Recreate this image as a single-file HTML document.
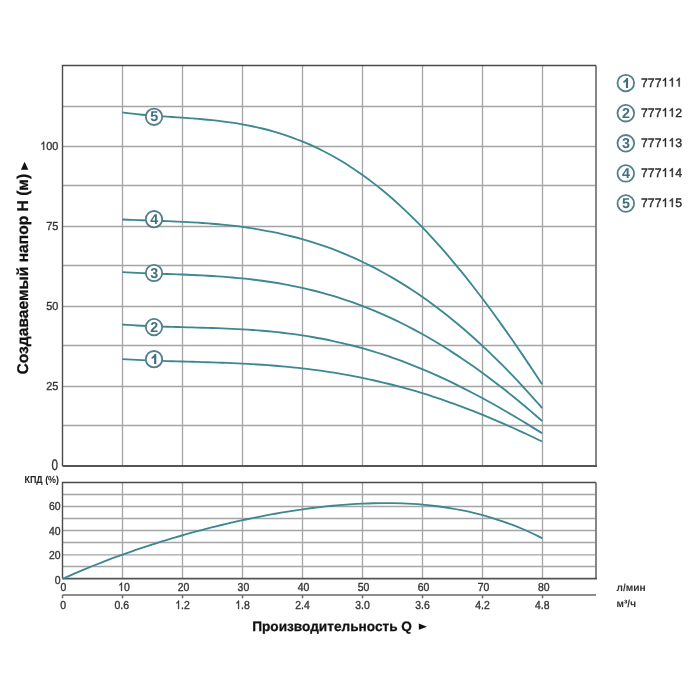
<!DOCTYPE html><html><head><meta charset="utf-8"><style>html,body{margin:0;padding:0;background:#fff;width:700px;height:700px;overflow:hidden}svg{display:block;will-change:transform}text{font-family:"Liberation Sans", sans-serif;-webkit-font-smoothing:antialiased}</style></head><body>
<svg width="700" height="700" viewBox="0 0 700 700" text-rendering="geometricPrecision">
<rect width="700" height="700" fill="#fff"/>
<path d="M122.5,65.5V466 M182.5,65.5V466 M242.5,65.5V466 M302.5,65.5V466 M362.5,65.5V466 M422.5,65.5V466 M482.5,65.5V466 M542.5,65.5V466 M62.5,106.5H596 M62.5,146.5H596 M62.5,185.5H596 M62.5,226.5H596 M62.5,265.5H596 M62.5,306.5H596 M62.5,345.5H596 M62.5,386.5H596 M62.5,425.5H596 M122.5,482.5V578.5 M182.5,482.5V578.5 M242.5,482.5V578.5 M302.5,482.5V578.5 M362.5,482.5V578.5 M422.5,482.5V578.5 M482.5,482.5V578.5 M542.5,482.5V578.5 M62.5,494.5H596 M62.5,506.5H596 M62.5,518.5H596 M62.5,530.5H596 M62.5,542.5H596 M62.5,554.8H596 M62.5,566.5H596" stroke="#a4a4a4" stroke-width="1.3" fill="none"/>
<path d="M596,65.5V466M596,482.5V578.5" stroke="#808080" stroke-width="1.9" fill="none"/>
<path d="M62.5,466V65.5H596M62.5,578.5V482.5H596" stroke="#4a4a4a" stroke-width="1.4" fill="none"/>
<path d="M62.5,466H597M62.5,578.6H597" stroke="#555" stroke-width="1.9" fill="none"/>
<path d="M62.5,595H596 M62.5,595V598.3 M122.5,595V598.3 M182.5,595V598.3 M242.5,595V598.3 M302.5,595V598.3 M362.5,595V598.3 M422.5,595V598.3 M482.5,595V598.3 M542.5,595V598.3" stroke="#6a6a6a" stroke-width="1.5" fill="none"/>
<path d="M122.20,359.12 C125.53,359.31 128.87,359.52 132.20,359.69 C135.53,359.86 138.87,360.02 142.20,360.16 C145.53,360.31 148.87,360.44 152.20,360.56 C155.53,360.69 158.87,360.80 162.20,360.91 C165.53,361.01 168.87,361.11 172.20,361.21 C175.53,361.31 178.87,361.40 182.20,361.50 C185.53,361.59 188.87,361.68 192.20,361.78 C195.53,361.87 198.87,361.96 202.20,362.06 C205.53,362.17 208.87,362.27 212.20,362.38 C215.53,362.49 218.87,362.60 222.20,362.73 C225.53,362.86 228.87,362.99 232.20,363.13 C235.53,363.28 238.87,363.43 242.20,363.60 C245.53,363.77 248.87,363.95 252.20,364.15 C255.53,364.34 258.87,364.55 262.20,364.78 C265.53,365.01 268.87,365.25 272.20,365.51 C275.53,365.77 278.87,366.05 282.20,366.35 C285.53,366.64 288.87,366.96 292.20,367.30 C295.53,367.64 298.87,368.00 302.20,368.38 C305.53,368.76 308.87,369.16 312.20,369.59 C315.53,370.02 318.87,370.47 322.20,370.94 C325.53,371.42 328.87,371.91 332.20,372.44 C335.53,372.96 338.87,373.51 342.20,374.09 C345.53,374.67 348.87,375.27 352.20,375.90 C355.53,376.53 358.87,377.18 362.20,377.86 C365.53,378.55 368.87,379.26 372.20,380.00 C375.53,380.74 378.87,381.50 382.20,382.30 C385.53,383.09 388.87,383.92 392.20,384.77 C395.53,385.62 398.87,386.50 402.20,387.41 C405.53,388.32 408.87,389.26 412.20,390.22 C415.53,391.19 418.87,392.18 422.20,393.21 C425.53,394.23 428.87,395.28 432.20,396.37 C435.53,397.45 438.87,398.56 442.20,399.69 C445.53,400.83 448.87,402.00 452.20,403.19 C455.53,404.38 458.87,405.60 462.20,406.85 C465.53,408.10 468.87,409.38 472.20,410.68 C475.53,411.98 478.87,413.31 482.20,414.66 C485.53,416.01 488.87,417.39 492.20,418.80 C495.53,420.20 498.87,421.63 502.20,423.08 C505.53,424.54 508.87,426.01 512.20,427.51 C515.53,429.01 518.87,430.53 522.20,432.08 C525.53,433.62 528.88,435.19 532.20,436.77 C535.52,438.34 538.80,439.94 542.10,441.53" stroke="#3b8893" stroke-width="1.85" fill="none"/>
<path d="M122.20,324.46 C125.53,324.70 128.87,324.97 132.20,325.19 C135.53,325.40 138.87,325.59 142.20,325.76 C145.53,325.94 148.87,326.09 152.20,326.22 C155.53,326.36 158.87,326.48 162.20,326.60 C165.53,326.71 168.87,326.81 172.20,326.90 C175.53,327.00 178.87,327.09 182.20,327.18 C185.53,327.26 188.87,327.35 192.20,327.44 C195.53,327.52 198.87,327.61 202.20,327.71 C205.53,327.80 208.87,327.90 212.20,328.01 C215.53,328.12 218.87,328.24 222.20,328.37 C225.53,328.51 228.87,328.65 232.20,328.81 C235.53,328.97 238.87,329.14 242.20,329.34 C245.53,329.53 248.87,329.74 252.20,329.97 C255.53,330.21 258.87,330.46 262.20,330.74 C265.53,331.02 268.87,331.32 272.20,331.65 C275.53,331.98 278.87,332.33 282.20,332.72 C285.53,333.10 288.87,333.51 292.20,333.95 C295.53,334.39 298.87,334.86 302.20,335.37 C305.53,335.87 308.87,336.40 312.20,336.97 C315.53,337.54 318.87,338.14 322.20,338.78 C325.53,339.42 328.87,340.09 332.20,340.80 C335.53,341.51 338.87,342.25 342.20,343.03 C345.53,343.81 348.87,344.63 352.20,345.49 C355.53,346.34 358.87,347.24 362.20,348.17 C365.53,349.10 368.87,350.07 372.20,351.08 C375.53,352.09 378.87,353.13 382.20,354.22 C385.53,355.31 388.87,356.43 392.20,357.60 C395.53,358.76 398.87,359.96 402.20,361.20 C405.53,362.45 408.87,363.73 412.20,365.04 C415.53,366.36 418.87,367.72 422.20,369.11 C425.53,370.51 428.87,371.94 432.20,373.41 C435.53,374.88 438.87,376.38 442.20,377.92 C445.53,379.46 448.87,381.04 452.20,382.65 C455.53,384.26 458.87,385.91 462.20,387.59 C465.53,389.27 468.87,390.98 472.20,392.72 C475.53,394.47 478.87,396.24 482.20,398.05 C485.53,399.85 488.87,401.69 492.20,403.55 C495.53,405.41 498.87,407.31 502.20,409.22 C505.53,411.14 508.87,413.08 512.20,415.05 C515.53,417.01 518.87,419.00 522.20,421.01 C525.53,423.02 528.88,425.06 532.20,427.10 C535.52,429.13 538.80,431.19 542.10,433.23" stroke="#3b8893" stroke-width="1.85" fill="none"/>
<path d="M122.20,272.11 C125.53,272.29 128.87,272.47 132.20,272.63 C135.53,272.79 138.87,272.93 142.20,273.07 C145.53,273.21 148.87,273.33 152.20,273.46 C155.53,273.58 158.87,273.70 162.20,273.81 C165.53,273.93 168.87,274.05 172.20,274.17 C175.53,274.29 178.87,274.41 182.20,274.54 C185.53,274.68 188.87,274.81 192.20,274.96 C195.53,275.11 198.87,275.27 202.20,275.44 C205.53,275.62 208.87,275.80 212.20,276.01 C215.53,276.22 218.87,276.44 222.20,276.68 C225.53,276.93 228.87,277.19 232.20,277.48 C235.53,277.77 238.87,278.08 242.20,278.42 C245.53,278.76 248.87,279.12 252.20,279.52 C255.53,279.91 258.87,280.33 262.20,280.79 C265.53,281.24 268.87,281.73 272.20,282.25 C275.53,282.77 278.87,283.32 282.20,283.92 C285.53,284.51 288.87,285.13 292.20,285.80 C295.53,286.46 298.87,287.16 302.20,287.91 C305.53,288.65 308.87,289.43 312.20,290.26 C315.53,291.08 318.87,291.94 322.20,292.85 C325.53,293.76 328.87,294.71 332.20,295.71 C335.53,296.71 338.87,297.75 342.20,298.83 C345.53,299.92 348.87,301.05 352.20,302.23 C355.53,303.41 358.87,304.63 362.20,305.91 C365.53,307.18 368.87,308.50 372.20,309.87 C375.53,311.24 378.87,312.65 382.20,314.12 C385.53,315.58 388.87,317.10 392.20,318.66 C395.53,320.22 398.87,321.83 402.20,323.50 C405.53,325.16 408.87,326.87 412.20,328.63 C415.53,330.39 418.87,332.20 422.20,334.06 C425.53,335.91 428.87,337.82 432.20,339.78 C435.53,341.74 438.87,343.74 442.20,345.80 C445.53,347.85 448.87,349.95 452.20,352.10 C455.53,354.25 458.87,356.45 462.20,358.70 C465.53,360.94 468.87,363.24 472.20,365.58 C475.53,367.92 478.87,370.30 482.20,372.73 C485.53,375.16 488.87,377.64 492.20,380.16 C495.53,382.68 498.87,385.24 502.20,387.85 C505.53,390.45 508.87,393.10 512.20,395.79 C515.53,398.48 518.87,401.21 522.20,403.98 C525.53,406.74 528.88,409.57 532.20,412.40 C535.52,415.23 538.80,418.10 542.10,420.96" stroke="#3b8893" stroke-width="1.85" fill="none"/>
<path d="M122.20,219.52 C125.53,219.65 128.87,219.79 132.20,219.91 C135.53,220.04 138.87,220.16 142.20,220.27 C145.53,220.39 148.87,220.50 152.20,220.62 C155.53,220.73 158.87,220.85 162.20,220.97 C165.53,221.10 168.87,221.22 172.20,221.36 C175.53,221.50 178.87,221.65 182.20,221.81 C185.53,221.97 188.87,222.15 192.20,222.34 C195.53,222.53 198.87,222.74 202.20,222.97 C205.53,223.20 208.87,223.45 212.20,223.73 C215.53,224.00 218.87,224.30 222.20,224.63 C225.53,224.95 228.87,225.30 232.20,225.69 C235.53,226.07 238.87,226.48 242.20,226.93 C245.53,227.38 248.87,227.86 252.20,228.38 C255.53,228.89 258.87,229.44 262.20,230.04 C265.53,230.63 268.87,231.26 272.20,231.93 C275.53,232.60 278.87,233.31 282.20,234.07 C285.53,234.83 288.87,235.63 292.20,236.48 C295.53,237.32 298.87,238.21 302.20,239.16 C305.53,240.10 308.87,241.09 312.20,242.13 C315.53,243.17 318.87,244.25 322.20,245.40 C325.53,246.54 328.87,247.73 332.20,248.98 C335.53,250.23 338.87,251.53 342.20,252.89 C345.53,254.25 348.87,255.66 352.20,257.13 C355.53,258.60 358.87,260.13 362.20,261.72 C365.53,263.30 368.87,264.95 372.20,266.65 C375.53,268.35 378.87,270.12 382.20,271.94 C385.53,273.77 388.87,275.65 392.20,277.60 C395.53,279.55 398.87,281.55 402.20,283.62 C405.53,285.70 408.87,287.83 412.20,290.03 C415.53,292.22 418.87,294.48 422.20,296.81 C425.53,299.13 428.87,301.52 432.20,303.97 C435.53,306.42 438.87,308.94 442.20,311.52 C445.53,314.10 448.87,316.74 452.20,319.45 C455.53,322.16 458.87,324.94 462.20,327.77 C465.53,330.61 468.87,333.52 472.20,336.48 C475.53,339.45 478.87,342.49 482.20,345.58 C485.53,348.68 488.87,351.84 492.20,355.07 C495.53,358.29 498.87,361.58 502.20,364.93 C505.53,368.28 508.87,371.70 512.20,375.18 C515.53,378.66 518.87,382.20 522.20,385.80 C525.53,389.40 528.88,393.09 532.20,396.80 C535.52,400.50 538.80,404.29 542.10,408.04" stroke="#3b8893" stroke-width="1.85" fill="none"/>
<path d="M122.20,112.41 C125.53,112.83 128.87,113.29 132.20,113.68 C135.53,114.06 138.87,114.39 142.20,114.71 C145.53,115.03 148.87,115.30 152.20,115.57 C155.53,115.84 158.87,116.08 162.20,116.32 C165.53,116.56 168.87,116.78 172.20,117.01 C175.53,117.24 178.87,117.46 182.20,117.69 C185.53,117.93 188.87,118.16 192.20,118.42 C195.53,118.67 198.87,118.94 202.20,119.24 C205.53,119.53 208.87,119.84 212.20,120.19 C215.53,120.54 218.87,120.92 222.20,121.33 C225.53,121.75 228.87,122.20 232.20,122.70 C235.53,123.19 238.87,123.73 242.20,124.32 C245.53,124.91 248.87,125.54 252.20,126.24 C255.53,126.93 258.87,127.68 262.20,128.49 C265.53,129.30 268.87,130.16 272.20,131.10 C275.53,132.03 278.87,133.03 282.20,134.10 C285.53,135.17 288.87,136.30 292.20,137.51 C295.53,138.72 298.87,140.01 302.20,141.37 C305.53,142.73 308.87,144.17 312.20,145.68 C315.53,147.20 318.87,148.80 322.20,150.48 C325.53,152.16 328.87,153.92 332.20,155.77 C335.53,157.62 338.87,159.55 342.20,161.57 C345.53,163.59 348.87,165.70 352.20,167.90 C355.53,170.09 358.87,172.38 362.20,174.75 C365.53,177.12 368.87,179.59 372.20,182.14 C375.53,184.69 378.87,187.34 382.20,190.07 C385.53,192.80 388.87,195.63 392.20,198.54 C395.53,201.46 398.87,204.46 402.20,207.56 C405.53,210.65 408.87,213.84 412.20,217.11 C415.53,220.39 418.87,223.75 422.20,227.20 C425.53,230.65 428.87,234.19 432.20,237.81 C435.53,241.43 438.87,245.14 442.20,248.94 C445.53,252.73 448.87,256.61 452.20,260.56 C455.53,264.52 458.87,268.56 462.20,272.68 C465.53,276.79 468.87,280.99 472.20,285.26 C475.53,289.52 478.87,293.87 482.20,298.28 C485.53,302.70 488.87,307.18 492.20,311.74 C495.53,316.29 498.87,320.91 502.20,325.59 C505.53,330.27 508.87,335.01 512.20,339.81 C515.53,344.61 518.87,349.47 522.20,354.38 C525.53,359.28 528.88,364.27 532.20,369.25 C535.52,374.23 538.80,379.25 542.10,384.24" stroke="#3b8893" stroke-width="1.85" fill="none"/>
<path d="M62.60,578.86 C65.93,577.37 69.27,575.85 72.60,574.39 C75.93,572.94 79.27,571.51 82.60,570.11 C85.93,568.71 89.27,567.33 92.60,565.99 C95.93,564.64 99.27,563.32 102.60,562.02 C105.93,560.73 109.27,559.46 112.60,558.21 C115.93,556.96 119.27,555.74 122.60,554.54 C125.93,553.34 129.27,552.17 132.60,551.01 C135.93,549.86 139.27,548.72 142.60,547.61 C145.93,546.50 149.27,545.41 152.60,544.34 C155.93,543.27 159.27,542.22 162.60,541.19 C165.93,540.17 169.27,539.16 172.60,538.17 C175.93,537.18 179.27,536.21 182.60,535.26 C185.93,534.31 189.27,533.37 192.60,532.46 C195.93,531.55 199.27,530.65 202.60,529.78 C205.93,528.90 209.27,528.05 212.60,527.21 C215.93,526.37 219.27,525.55 222.60,524.75 C225.93,523.95 229.27,523.17 232.60,522.41 C235.93,521.65 239.27,520.91 242.60,520.18 C245.93,519.46 249.27,518.75 252.60,518.07 C255.93,517.38 259.27,516.72 262.60,516.07 C265.93,515.43 269.27,514.80 272.60,514.20 C275.93,513.59 279.27,513.01 282.60,512.45 C285.93,511.89 289.27,511.35 292.60,510.83 C295.93,510.31 299.27,509.81 302.60,509.34 C305.93,508.87 309.27,508.42 312.60,508.00 C315.93,507.57 319.27,507.17 322.60,506.80 C325.93,506.42 329.27,506.07 332.60,505.75 C335.93,505.43 339.27,505.13 342.60,504.86 C345.93,504.60 349.27,504.36 352.60,504.15 C355.93,503.94 359.27,503.76 362.60,503.61 C365.93,503.46 369.27,503.34 372.60,503.26 C375.93,503.17 379.27,503.12 382.60,503.11 C385.93,503.09 389.27,503.11 392.60,503.16 C395.93,503.22 399.27,503.31 402.60,503.44 C405.93,503.57 409.27,503.74 412.60,503.95 C415.93,504.16 419.27,504.40 422.60,504.70 C425.93,504.99 429.27,505.33 432.60,505.71 C435.93,506.09 439.27,506.52 442.60,507.00 C445.93,507.47 449.27,507.99 452.60,508.57 C455.93,509.14 459.27,509.77 462.60,510.44 C465.93,511.12 469.27,511.85 472.60,512.64 C475.93,513.43 479.27,514.27 482.60,515.17 C485.93,516.07 489.27,517.03 492.60,518.05 C495.93,519.08 499.27,520.16 502.60,521.31 C505.93,522.46 509.27,523.67 512.60,524.95 C515.93,526.24 519.27,527.59 522.60,529.01 C525.93,530.43 529.32,531.95 532.60,533.49 C535.88,535.04 539.07,536.68 542.30,538.27" stroke="#3b8893" stroke-width="1.85" fill="none"/>
<circle cx="154" cy="116.8" r="8.2" fill="#fff" stroke="#527f8a" stroke-width="1.8"/>
<text x="154.20" y="121.40" font-size="14.30" font-weight="bold" text-anchor="middle" fill="#40707c">5</text>
<circle cx="154" cy="219.2" r="8.2" fill="#fff" stroke="#527f8a" stroke-width="1.8"/>
<text x="154.20" y="223.80" font-size="14.30" font-weight="bold" text-anchor="middle" fill="#40707c">4</text>
<circle cx="154" cy="273.0" r="8.2" fill="#fff" stroke="#527f8a" stroke-width="1.8"/>
<text x="154.20" y="277.60" font-size="14.30" font-weight="bold" text-anchor="middle" fill="#40707c">3</text>
<circle cx="154" cy="327.1" r="8.2" fill="#fff" stroke="#527f8a" stroke-width="1.8"/>
<text x="154.20" y="331.70" font-size="14.30" font-weight="bold" text-anchor="middle" fill="#40707c">2</text>
<circle cx="154" cy="359.2" r="8.2" fill="#fff" stroke="#527f8a" stroke-width="1.8"/>
<path d="M156.30,354.10 V364.10 H154.10 V357.60 Q153.00,358.70 151.60,359.10 V357.10 Q153.60,356.40 154.60,354.10Z" fill="#40707c"/>
<circle cx="625.8" cy="83.1" r="8.3" fill="#fff" stroke="#527f8a" stroke-width="1.8"/>
<path d="M628.10,78.00 V88.00 H625.90 V81.50 Q624.80,82.60 623.40,83.00 V81.00 Q625.40,80.30 626.40,78.00Z" fill="#40707c"/>
<text x="641.00" y="86.60" font-size="12.30" fill="#2a2a2a" textLength="20.52" lengthAdjust="spacingAndGlyphs" stroke="#2a2a2a" stroke-width="0.35">777</text>
<path d="M665.99,86.60 L665.99,77.79 L665.27,77.79 Q664.84,78.73 663.86,79.40 Q663.37,79.77 662.91,79.96 L662.91,81.00 Q663.86,80.63 664.94,79.90 L664.94,86.60 Z" fill="#2a2a2a" stroke="#2a2a2a" stroke-width="0.35"/>
<path d="M672.83,86.60 L672.83,77.79 L672.11,77.79 Q671.68,78.73 670.70,79.40 Q670.21,79.77 669.75,79.96 L669.75,81.00 Q670.70,80.63 671.78,79.90 L671.78,86.60 Z" fill="#2a2a2a" stroke="#2a2a2a" stroke-width="0.35"/>
<path d="M679.67,86.60 L679.67,77.79 L678.96,77.79 Q678.52,78.73 677.54,79.40 Q677.05,79.77 676.59,79.96 L676.59,81.00 Q677.54,80.63 678.62,79.90 L678.62,86.60 Z" fill="#2a2a2a" stroke="#2a2a2a" stroke-width="0.35"/>
<circle cx="625.8" cy="113.2" r="8.3" fill="#fff" stroke="#527f8a" stroke-width="1.8"/>
<text x="626.00" y="117.80" font-size="14.30" font-weight="bold" text-anchor="middle" fill="#40707c">2</text>
<text x="641.00" y="116.70" font-size="12.30" fill="#2a2a2a" textLength="20.52" lengthAdjust="spacingAndGlyphs" stroke="#2a2a2a" stroke-width="0.35">777</text>
<path d="M665.99,116.70 L665.99,107.89 L665.27,107.89 Q664.84,108.83 663.86,109.50 Q663.37,109.87 662.91,110.06 L662.91,111.10 Q663.86,110.73 664.94,110.00 L664.94,116.70 Z" fill="#2a2a2a" stroke="#2a2a2a" stroke-width="0.35"/>
<path d="M672.83,116.70 L672.83,107.89 L672.11,107.89 Q671.68,108.83 670.70,109.50 Q670.21,109.87 669.75,110.06 L669.75,111.10 Q670.70,110.73 671.78,110.00 L671.78,116.70 Z" fill="#2a2a2a" stroke="#2a2a2a" stroke-width="0.35"/>
<text x="675.20" y="116.70" font-size="12.30" fill="#2a2a2a" textLength="6.84" lengthAdjust="spacingAndGlyphs" stroke="#2a2a2a" stroke-width="0.35">2</text>
<circle cx="625.8" cy="143.3" r="8.3" fill="#fff" stroke="#527f8a" stroke-width="1.8"/>
<text x="626.00" y="147.90" font-size="14.30" font-weight="bold" text-anchor="middle" fill="#40707c">3</text>
<text x="641.00" y="146.80" font-size="12.30" fill="#2a2a2a" textLength="20.52" lengthAdjust="spacingAndGlyphs" stroke="#2a2a2a" stroke-width="0.35">777</text>
<path d="M665.99,146.80 L665.99,137.99 L665.27,137.99 Q664.84,138.93 663.86,139.60 Q663.37,139.97 662.91,140.16 L662.91,141.20 Q663.86,140.83 664.94,140.10 L664.94,146.80 Z" fill="#2a2a2a" stroke="#2a2a2a" stroke-width="0.35"/>
<path d="M672.83,146.80 L672.83,137.99 L672.11,137.99 Q671.68,138.93 670.70,139.60 Q670.21,139.97 669.75,140.16 L669.75,141.20 Q670.70,140.83 671.78,140.10 L671.78,146.80 Z" fill="#2a2a2a" stroke="#2a2a2a" stroke-width="0.35"/>
<text x="675.20" y="146.80" font-size="12.30" fill="#2a2a2a" textLength="6.84" lengthAdjust="spacingAndGlyphs" stroke="#2a2a2a" stroke-width="0.35">3</text>
<circle cx="625.8" cy="173.4" r="8.3" fill="#fff" stroke="#527f8a" stroke-width="1.8"/>
<text x="626.00" y="178.00" font-size="14.30" font-weight="bold" text-anchor="middle" fill="#40707c">4</text>
<text x="641.00" y="176.90" font-size="12.30" fill="#2a2a2a" textLength="20.52" lengthAdjust="spacingAndGlyphs" stroke="#2a2a2a" stroke-width="0.35">777</text>
<path d="M665.99,176.90 L665.99,168.09 L665.27,168.09 Q664.84,169.03 663.86,169.70 Q663.37,170.07 662.91,170.26 L662.91,171.30 Q663.86,170.93 664.94,170.20 L664.94,176.90 Z" fill="#2a2a2a" stroke="#2a2a2a" stroke-width="0.35"/>
<path d="M672.83,176.90 L672.83,168.09 L672.11,168.09 Q671.68,169.03 670.70,169.70 Q670.21,170.07 669.75,170.26 L669.75,171.30 Q670.70,170.93 671.78,170.20 L671.78,176.90 Z" fill="#2a2a2a" stroke="#2a2a2a" stroke-width="0.35"/>
<text x="675.20" y="176.90" font-size="12.30" fill="#2a2a2a" textLength="6.84" lengthAdjust="spacingAndGlyphs" stroke="#2a2a2a" stroke-width="0.35">4</text>
<circle cx="625.8" cy="203.5" r="8.3" fill="#fff" stroke="#527f8a" stroke-width="1.8"/>
<text x="626.00" y="208.10" font-size="14.30" font-weight="bold" text-anchor="middle" fill="#40707c">5</text>
<text x="641.00" y="207.00" font-size="12.30" fill="#2a2a2a" textLength="20.52" lengthAdjust="spacingAndGlyphs" stroke="#2a2a2a" stroke-width="0.35">777</text>
<path d="M665.99,207.00 L665.99,198.19 L665.27,198.19 Q664.84,199.13 663.86,199.80 Q663.37,200.17 662.91,200.36 L662.91,201.40 Q663.86,201.03 664.94,200.30 L664.94,207.00 Z" fill="#2a2a2a" stroke="#2a2a2a" stroke-width="0.35"/>
<path d="M672.83,207.00 L672.83,198.19 L672.11,198.19 Q671.68,199.13 670.70,199.80 Q670.21,200.17 669.75,200.36 L669.75,201.40 Q670.70,201.03 671.78,200.30 L671.78,207.00 Z" fill="#2a2a2a" stroke="#2a2a2a" stroke-width="0.35"/>
<text x="675.20" y="207.00" font-size="12.30" fill="#2a2a2a" textLength="6.84" lengthAdjust="spacingAndGlyphs" stroke="#2a2a2a" stroke-width="0.35">5</text>
<path d="M44.17,149.90 L44.17,141.59 L43.53,141.59 Q43.15,142.48 42.28,143.11 Q41.84,143.46 41.44,143.64 L41.44,144.62 Q42.28,144.27 43.24,143.58 L43.24,149.90 Z" fill="#333" stroke="#333" stroke-width="0.35"/>
<text x="46.27" y="149.90" font-size="11.60" fill="#333" textLength="12.13" lengthAdjust="spacingAndGlyphs" stroke="#333" stroke-width="0.35">00</text>
<text x="46.27" y="229.50" font-size="11.60" fill="#333" textLength="12.13" lengthAdjust="spacingAndGlyphs" stroke="#333" stroke-width="0.35">75</text>
<text x="46.27" y="309.50" font-size="11.60" fill="#333" textLength="12.13" lengthAdjust="spacingAndGlyphs" stroke="#333" stroke-width="0.35">50</text>
<text x="46.27" y="389.50" font-size="11.60" fill="#333" textLength="12.13" lengthAdjust="spacingAndGlyphs" stroke="#333" stroke-width="0.35">25</text>
<text x="58.00" y="469.80" font-size="15.00" text-anchor="end" fill="#333" textLength="6.50" lengthAdjust="spacingAndGlyphs" stroke="#333" stroke-width="0.35">0</text>
<text x="60.60" y="509.60" font-size="11.60" text-anchor="end" fill="#333" textLength="11.61" lengthAdjust="spacingAndGlyphs" stroke="#333" stroke-width="0.35">60</text>
<text x="60.60" y="534.60" font-size="11.60" text-anchor="end" fill="#333" textLength="11.61" lengthAdjust="spacingAndGlyphs" stroke="#333" stroke-width="0.35">40</text>
<text x="60.60" y="558.80" font-size="11.60" text-anchor="end" fill="#333" textLength="11.61" lengthAdjust="spacingAndGlyphs" stroke="#333" stroke-width="0.35">20</text>
<text x="60.60" y="583.50" font-size="11.60" text-anchor="end" fill="#333" textLength="5.81" lengthAdjust="spacingAndGlyphs" stroke="#333" stroke-width="0.35">0</text>
<text x="24.50" y="482.70" font-size="10.20" font-weight="bold" fill="#222" textLength="34.50" lengthAdjust="spacingAndGlyphs">КПД (%)</text>
<text x="60.50" y="590.90" font-size="11.60" fill="#333" textLength="5.81" lengthAdjust="spacingAndGlyphs" stroke="#333" stroke-width="0.35">0</text>
<path d="M121.98,590.90 L121.98,582.59 L121.38,582.59 Q121.01,583.48 120.18,584.11 Q119.76,584.46 119.37,584.64 L119.37,585.62 Q120.18,585.27 121.10,584.58 L121.10,590.90 Z" fill="#333" stroke="#333" stroke-width="0.35"/>
<text x="124.00" y="590.90" font-size="11.60" fill="#333" textLength="5.81" lengthAdjust="spacingAndGlyphs" stroke="#333" stroke-width="0.35">0</text>
<text x="177.79" y="590.90" font-size="11.60" fill="#333" textLength="11.61" lengthAdjust="spacingAndGlyphs" stroke="#333" stroke-width="0.35">20</text>
<text x="237.59" y="590.90" font-size="11.60" fill="#333" textLength="11.61" lengthAdjust="spacingAndGlyphs" stroke="#333" stroke-width="0.35">30</text>
<text x="297.69" y="590.90" font-size="11.60" fill="#333" textLength="11.61" lengthAdjust="spacingAndGlyphs" stroke="#333" stroke-width="0.35">40</text>
<text x="357.69" y="590.90" font-size="11.60" fill="#333" textLength="11.61" lengthAdjust="spacingAndGlyphs" stroke="#333" stroke-width="0.35">50</text>
<text x="417.69" y="590.90" font-size="11.60" fill="#333" textLength="11.61" lengthAdjust="spacingAndGlyphs" stroke="#333" stroke-width="0.35">60</text>
<text x="477.79" y="590.90" font-size="11.60" fill="#333" textLength="11.61" lengthAdjust="spacingAndGlyphs" stroke="#333" stroke-width="0.35">70</text>
<text x="537.89" y="590.90" font-size="11.60" fill="#333" textLength="11.61" lengthAdjust="spacingAndGlyphs" stroke="#333" stroke-width="0.35">80</text>
<text x="60.30" y="608.90" font-size="11.60" fill="#333" textLength="5.81" lengthAdjust="spacingAndGlyphs" stroke="#333" stroke-width="0.35">0</text>
<text x="114.54" y="608.90" font-size="11.60" fill="#333" textLength="14.51" lengthAdjust="spacingAndGlyphs" stroke="#333" stroke-width="0.35">0.6</text>
<path d="M179.03,608.90 L179.03,600.59 L178.43,600.59 Q178.06,601.48 177.23,602.11 Q176.81,602.46 176.42,602.64 L176.42,603.62 Q177.23,603.27 178.15,602.58 L178.15,608.90 Z" fill="#333" stroke="#333" stroke-width="0.35"/>
<text x="181.05" y="608.90" font-size="11.60" fill="#333" textLength="8.71" lengthAdjust="spacingAndGlyphs" stroke="#333" stroke-width="0.35">.2</text>
<path d="M239.03,608.90 L239.03,600.59 L238.43,600.59 Q238.06,601.48 237.23,602.11 Q236.81,602.46 236.42,602.64 L236.42,603.62 Q237.23,603.27 238.15,602.58 L238.15,608.90 Z" fill="#333" stroke="#333" stroke-width="0.35"/>
<text x="241.05" y="608.90" font-size="11.60" fill="#333" textLength="8.71" lengthAdjust="spacingAndGlyphs" stroke="#333" stroke-width="0.35">.8</text>
<text x="295.24" y="608.90" font-size="11.60" fill="#333" textLength="14.51" lengthAdjust="spacingAndGlyphs" stroke="#333" stroke-width="0.35">2.4</text>
<text x="355.24" y="608.90" font-size="11.60" fill="#333" textLength="14.51" lengthAdjust="spacingAndGlyphs" stroke="#333" stroke-width="0.35">3.0</text>
<text x="415.24" y="608.90" font-size="11.60" fill="#333" textLength="14.51" lengthAdjust="spacingAndGlyphs" stroke="#333" stroke-width="0.35">3.6</text>
<text x="475.24" y="608.90" font-size="11.60" fill="#333" textLength="14.51" lengthAdjust="spacingAndGlyphs" stroke="#333" stroke-width="0.35">4.2</text>
<text x="535.04" y="608.90" font-size="11.60" fill="#333" textLength="14.51" lengthAdjust="spacingAndGlyphs" stroke="#333" stroke-width="0.35">4.8</text>
<text x="616.50" y="591.00" font-size="10.50" font-weight="bold" fill="#333" textLength="29.20" lengthAdjust="spacingAndGlyphs">л/мин</text>
<text x="616.50" y="606.50" font-size="10.50" font-weight="bold" fill="#333" textLength="19.50" lengthAdjust="spacingAndGlyphs">м³/ч</text>
<text x="252.20" y="630.60" font-size="13.65" font-weight="bold" fill="#111" stroke="#111" stroke-width="0.25">Производительность Q</text>
<path d="M418.8,623.6L427,626.7L418.8,629.8Z" fill="#111"/>
<text transform="translate(28.4,374.5) rotate(-90)" x="0" y="0" font-size="15.6" font-weight="bold" fill="#111" stroke="#111" stroke-width="0.25">Создаваемый напор Н (м)</text>
<path d="M20.9,169.8L28.3,169.8L24.6,161.8Z" fill="#111"/>
</svg></body></html>
